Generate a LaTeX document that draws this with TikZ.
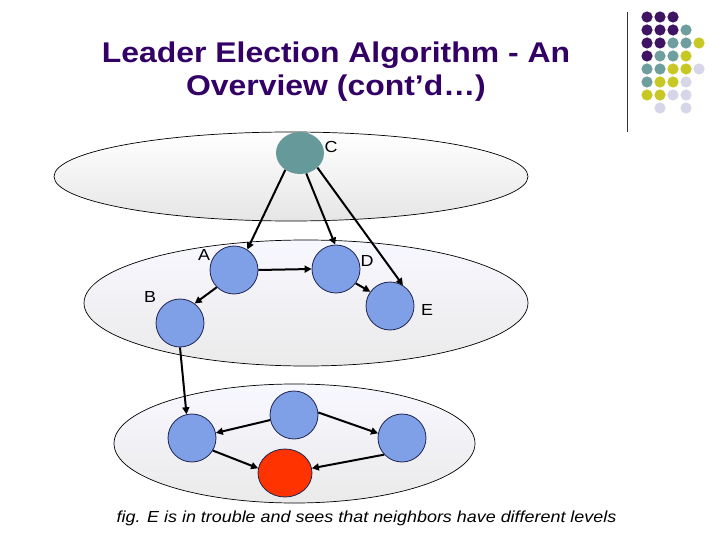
\documentclass[tikz,border=0pt]{standalone}
\usepackage{fontspec}
\setmainfont{Liberation Sans}[FakeStretch=1.12]
\usetikzlibrary{shapes.geometric,arrows.meta}
\definecolor{ttl}{HTML}{330066}
\definecolor{dp}{HTML}{3F1462}
\definecolor{dt}{HTML}{6E9E9E}
\definecolor{dy}{HTML}{C8C824}
\definecolor{dl}{HTML}{D6D6E8}
\definecolor{cteal}{HTML}{669999}
\definecolor{nblue}{HTML}{7F9FE6}
\definecolor{nred}{HTML}{FF3300}
\definecolor{nline}{HTML}{1E2350}
\tikzset{
  layer/.style={ellipse, draw=black, line width=0.7pt, inner sep=0pt},
  bnode/.style={circle, draw=nline, line width=0.8pt, fill=nblue, minimum size=48pt, inner sep=0pt},
  cnode/.style={ellipse, fill=cteal, minimum width=48pt, minimum height=42pt, inner sep=0pt},
  rnode/.style={ellipse, draw=nline, line width=0.8pt, fill=nred, minimum width=54pt, minimum height=48pt, inner sep=0pt},
  lbl/.style={inner sep=0pt, font=\fontsize{16}{18}\selectfont},
  ttltext/.style={ttl, inner sep=0pt, anchor=base, font=\bfseries\fontsize{28.5}{33}\selectfont},
  arr/.style={-{Triangle[length=7pt,width=7pt]}, line width=2pt}
}
\begin{document}
\begin{tikzpicture}[x=1pt,y=-1pt]
\useasboundingbox (0,0) rectangle (720,540);
% decoration
\foreach \r/\c/\col in {0/0/dp,0/1/dp,0/2/dp,
  1/0/dp,1/1/dp,1/2/dp,1/3/dt,
  2/0/dp,2/1/dp,2/2/dt,2/3/dt,2/4/dy,
  3/0/dp,3/1/dt,3/2/dt,3/3/dy,
  4/0/dt,4/1/dt,4/2/dy,4/3/dy,4/4/dl,
  5/0/dt,5/1/dy,5/2/dy,5/3/dl,
  6/0/dy,6/1/dy,6/2/dl,6/3/dl,
  7/1/dl,7/3/dl}
  \fill[\col] (647+13*\c, 17+13*\r) circle (5.6pt);
\coordinate (v1) at (627,12);
\coordinate (v2) at (627,132);
\draw[line width=1pt, black!80] (v1) -- (v2);
% title
\node[ttltext] (title1) at (336,63) {Leader Election Algorithm - An};
\node[ttltext] (title2) at (336,96) {Overview (cont’d…)};
% layers
\node[layer, top color=white, bottom color=black!10, minimum width=474pt, minimum height=89pt] (L1) at (291,176.5) {};
\node[layer, top color=white!97!blue, bottom color=black!8, minimum width=444pt, minimum height=126pt] (L2) at (306,303) {};
\node[layer, top color=white!97!blue, bottom color=black!8, minimum width=361pt, minimum height=119pt] (L3) at (294.5,443.5) {};
% nodes
\node[cnode] (C) at (300,153) {};
\node[bnode] (A) at (234,270) {};
\node[bnode] (D) at (336,269) {};
\node[bnode] (E) at (390,306) {};
\node[bnode] (B) at (180,323) {};
\node[bnode] (P) at (192,438) {};
\node[bnode] (Q) at (294,415) {};
\node[bnode] (R) at (402,438) {};
\node[rnode] (S) at (285,473) {};
% labels
\node[lbl] (lC) at (331,147) {C};
\node[lbl] (lA) at (204,255) {A};
\node[lbl] (lD) at (367,261) {D};
\node[lbl] (lB) at (150,297) {B};
\node[lbl] (lE) at (427,310) {E};
% arrows
\draw[arr] (C.229) -- (A.57);
\draw[arr] (C.287) -- (D.92);
\draw[arr] (C.320) -- (E.58);
\draw[arr] (A.0) -- (D.180);
\draw[arr] (A.225) -- (B.53);
\draw[arr] (D.324) -- (E.144);
\draw[arr] (B.270) -- (P.103);
\draw[arr] (Q.192) -- (P.12);
\draw[arr] (Q.6) -- (R.169);
\draw[arr] (P.329) -- (S.170);
\draw[arr] (R.223) -- (S.10);
% caption
\node[font=\itshape\fontsize{16}{18}\selectfont, inner sep=0pt, anchor=base] (cap) at (366.5,522)
  {fig. E is in trouble and sees that neighbors have different levels};
\end{tikzpicture}
\end{document}
